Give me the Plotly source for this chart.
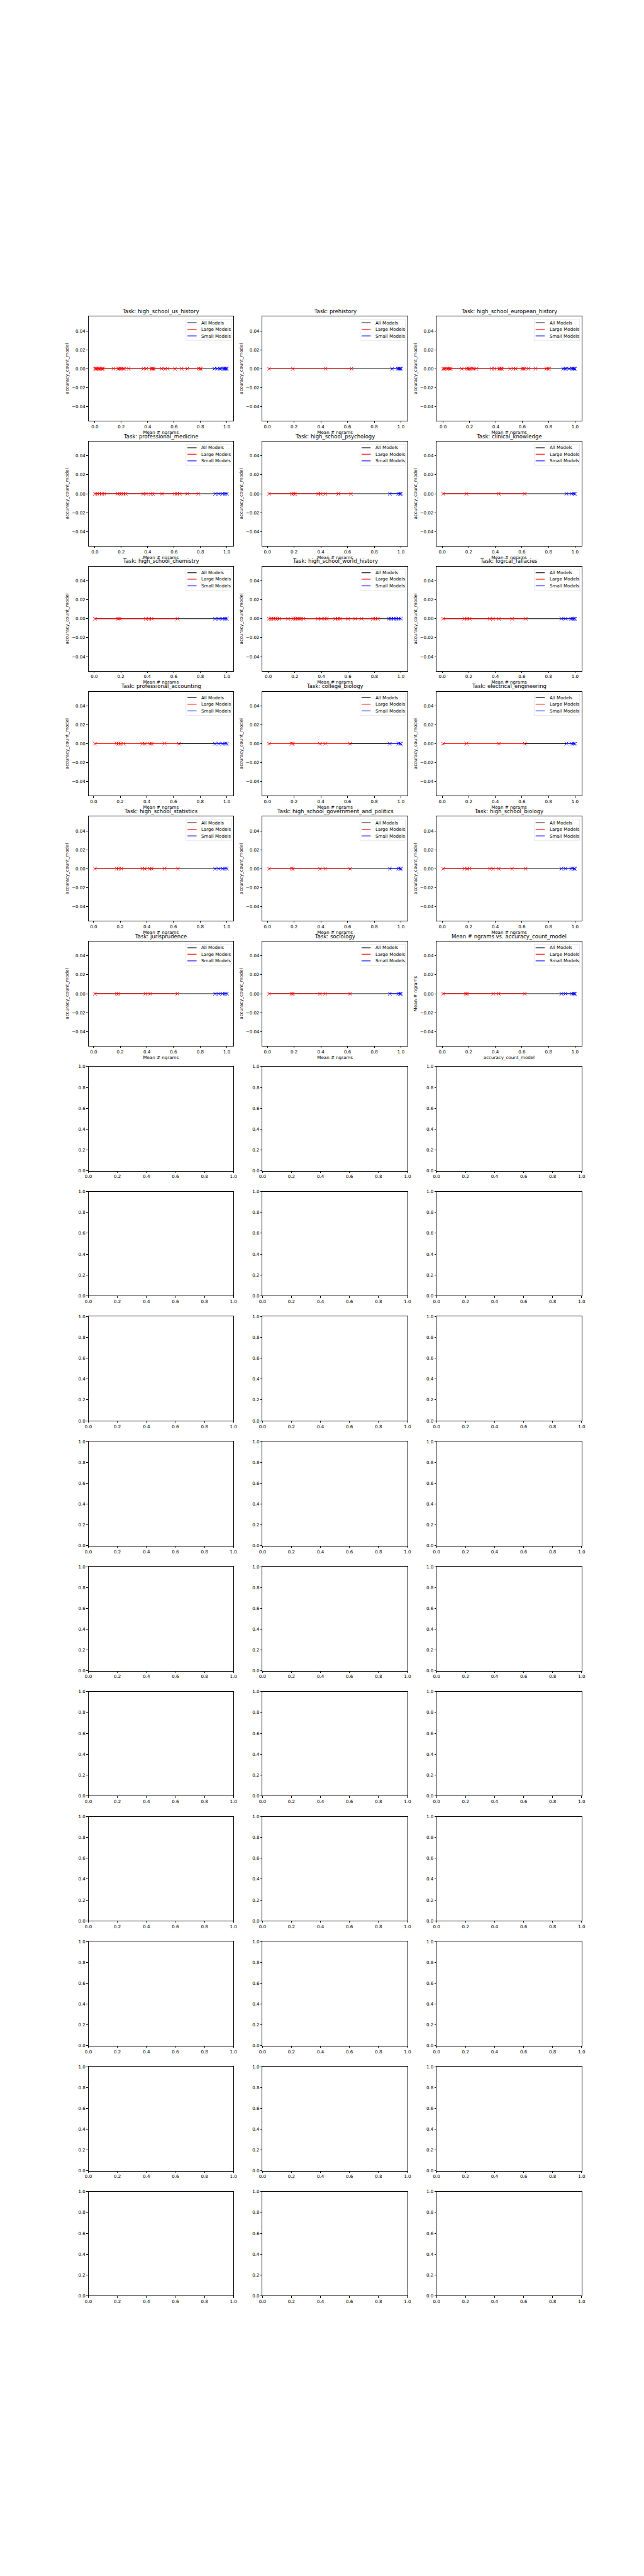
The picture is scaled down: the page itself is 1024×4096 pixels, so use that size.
import plotly.graph_objects as go

# ---------------- data ----------------
TASK_TITLES = [
    "Task: high_school_us_history", "Task: prehistory", "Task: high_school_european_history",
    "Task: professional_medicine", "Task: high_school_psychology", "Task: clinical_knowledge",
    "Task: high_school_chemistry", "Task: high_school_world_history", "Task: logical_fallacies",
    "Task: professional_accounting", "Task: college_biology", "Task: electrical_engineering",
    "Task: high_school_statistics", "Task: high_school_government_and_politics", "Task: high_school_biology",
    "Task: jurisprudence", "Task: sociology", "Mean # ngrams vs. accuracy_count_model",
]
X_LABELS = ["Mean # ngrams"] * 17 + ["accuracy_count_model"]
Y_LABELS = ["accuracy_count_model"] * 17 + ["Mean # ngrams"]
LEGEND_LABELS = ["All Models", "Large Models", "Small Models"]
X_TICKS = [0.0, 0.2, 0.4, 0.6, 0.8, 1.0]
Y_TICKS = [-0.04, -0.02, 0.0, 0.02, 0.04]
Y_RANGE = [-0.055, 0.055]

us_history_large = [0.000, 0.006, 0.012, 0.024, 0.030, 0.036, 0.050, 0.055, 0.061, 0.140, 0.176, 0.185,
                    0.195, 0.201, 0.213, 0.222, 0.256, 0.367, 0.390, 0.428, 0.434, 0.440, 0.446, 0.506,
                    0.532, 0.551, 0.607, 0.658, 0.700, 0.786, 0.796, 0.803]
us_history_small = [0.905, 0.928, 0.945, 0.952, 0.975, 0.982, 0.988, 0.994, 1.000]

prehistory_large = [0.013, 0.191, 0.437, 0.630]
prehistory_small = [0.934, 0.976, 0.984, 0.990, 0.996, 1.000]

european_history_large = [0.000, 0.008, 0.015, 0.030, 0.040, 0.050, 0.058, 0.142, 0.178, 0.188, 0.196,
                          0.204, 0.222, 0.232, 0.252, 0.368, 0.390, 0.425, 0.432, 0.440, 0.446, 0.507,
                          0.533, 0.551, 0.600, 0.608, 0.615, 0.646, 0.700, 0.782, 0.795, 0.805]
european_history_small = [0.910, 0.925, 0.934, 0.954, 0.975, 0.982, 0.990, 0.996, 1.000]

prof_medicine_large = [0.000, 0.017, 0.034, 0.053, 0.070, 0.173, 0.187, 0.201, 0.216, 0.233, 0.365,
                       0.388, 0.424, 0.439, 0.508, 0.604, 0.624, 0.643, 0.700, 0.784]
prof_medicine_small = [0.911, 0.940, 0.969, 0.988, 1.000]

hs_psychology_large = [0.012, 0.183, 0.195, 0.207, 0.379, 0.398, 0.433, 0.531, 0.626]
hs_psychology_small = [0.917, 0.981, 0.993, 1.000]

clinical_large = [0.007, 0.182, 0.426, 0.622]
clinical_small = [0.935, 0.976, 0.990, 1.000]

hs_chemistry_large = [0.005, 0.180, 0.190, 0.389, 0.412, 0.432, 0.628]
hs_chemistry_small = [0.911, 0.940, 0.969, 0.988, 1.000]

world_history_large = [0.005, 0.021, 0.036, 0.052, 0.069, 0.083, 0.148, 0.188, 0.202, 0.217, 0.231,
                       0.245, 0.264, 0.374, 0.398, 0.426, 0.440, 0.505, 0.524, 0.540, 0.600, 0.655,
                       0.702, 0.790, 0.807, 0.826]
world_history_small = [0.910, 0.926, 0.945, 0.964, 0.981, 1.000]

logical_large = [0.007, 0.167, 0.187, 0.206, 0.359, 0.383, 0.426, 0.526, 0.629]
logical_small = [0.897, 0.928, 0.971, 0.983, 0.993, 1.000]

accounting_large = [0.010, 0.173, 0.187, 0.204, 0.225, 0.365, 0.384, 0.422, 0.436, 0.532, 0.640]
accounting_small = [0.911, 0.940, 0.969, 0.988, 1.000]

college_bio_large = [0.012, 0.181, 0.190, 0.393, 0.433, 0.619]
college_bio_small = [0.917, 0.981, 0.993, 1.000]

electrical_large = [0.007, 0.182, 0.426, 0.622]
electrical_small = [0.935, 0.976, 0.990, 1.000]

statistics_large = [0.010, 0.173, 0.187, 0.209, 0.365, 0.384, 0.422, 0.436, 0.532, 0.633]
statistics_small = [0.911, 0.940, 0.969, 0.988, 1.000]

government_large = [0.012, 0.181, 0.190, 0.393, 0.433, 0.619]
government_small = [0.917, 0.981, 0.993, 1.000]

hs_biology_large = [0.007, 0.167, 0.187, 0.206, 0.359, 0.383, 0.426, 0.526, 0.629]
hs_biology_small = [0.897, 0.928, 0.971, 0.983, 0.993, 1.000]

jurisprudence_large = [0.010, 0.173, 0.185, 0.389, 0.424, 0.628]
jurisprudence_small = [0.911, 0.940, 0.969, 0.988, 1.000]

sociology_large = [0.012, 0.181, 0.190, 0.393, 0.433, 0.619]
sociology_small = [0.917, 0.981, 0.993, 1.000]

overall_large = [0.007, 0.177, 0.187, 0.385, 0.426, 0.622]
overall_small = [0.897, 0.928, 0.976, 0.988, 0.995, 1.000]

# accuracy_count_model is 0.0 for every model in every task
ACCURACY_VALUE = 0.0

PANELS = [
    (us_history_large, us_history_small), (prehistory_large, prehistory_small),
    (european_history_large, european_history_small),
    (prof_medicine_large, prof_medicine_small), (hs_psychology_large, hs_psychology_small),
    (clinical_large, clinical_small),
    (hs_chemistry_large, hs_chemistry_small), (world_history_large, world_history_small),
    (logical_large, logical_small),
    (accounting_large, accounting_small), (college_bio_large, college_bio_small),
    (electrical_large, electrical_small),
    (statistics_large, statistics_small), (government_large, government_small),
    (hs_biology_large, hs_biology_small),
    (jurisprudence_large, jurisprudence_small), (sociology_large, sociology_small),
    (overall_large, overall_small),
]

# ---------------- style ----------------
W, H = 1024, 4096
FONT = "DejaVu Sans"
FS = 7.1
TITLE_FS = 8.5
N_ROWS, N_COLS = 16, 3
COL_W = 0.775 / 3.4
GAP_X = 0.2 * COL_W
ROW_H = 0.77 / 19
GAP_Y = 0.2 * ROW_H
LW_AXIS = 0.6
MARKER_SIZE = 5.6
MARKER_LW = 1.0
C_ALL, C_LARGE, C_SMALL = "#000000", "#ff0000", "#0000ff"

fig = go.Figure()
layout = {}
shapes = []
annotations = []

axis_common = dict(
    showline=True, mirror=True, linecolor="black", linewidth=LW_AXIS,
    ticks="outside", ticklen=2.5, tickwidth=LW_AXIS, tickcolor="black",
    tickfont=dict(family=FONT, size=FS, color="black"),
    showgrid=False, zeroline=False,
)

for i in range(N_ROWS * N_COLS):
    r, c = divmod(i, N_COLS)
    n = "" if i == 0 else str(i + 1)
    x0 = 0.125 + c * (COL_W + GAP_X)
    top = 0.88 - r * (ROW_H + GAP_Y)
    xd = [x0, x0 + COL_W]
    yd = [top - ROW_H, top]
    xa = dict(axis_common, domain=xd, anchor="y" + n)
    ya = dict(axis_common, domain=yd, anchor="x" + n)
    if i < len(PANELS):
        large, small = PANELS[i]
        all_x = sorted(large + small)
        lo, hi = min(all_x), max(all_x)
        pad = 0.05 * (hi - lo)
        xa.update(range=[lo - pad, hi + pad], tickvals=X_TICKS, tickformat=".1f",
                  title=dict(text=X_LABELS[i], font=dict(family=FONT, size=FS, color="black"), standoff=2))
        ya.update(range=Y_RANGE, tickvals=Y_TICKS, tickformat=".2f",
                  title=dict(text=Y_LABELS[i], font=dict(family=FONT, size=FS, color="black"), standoff=3))
        ax_ref = dict(xaxis="x" + n, yaxis="y" + n)
        fig.add_trace(go.Scatter(x=all_x, y=[ACCURACY_VALUE for _ in all_x], mode="lines",
                                 line=dict(color=C_ALL, width=1.1), showlegend=False, **ax_ref))
        fig.add_trace(go.Scatter(x=large, y=[ACCURACY_VALUE for _ in large], mode="lines",
                                 line=dict(color=C_LARGE, width=1.1), showlegend=False, **ax_ref))
        fig.add_trace(go.Scatter(x=large, y=[ACCURACY_VALUE for _ in large], mode="markers",
                                 marker=dict(symbol="x-thin", size=MARKER_SIZE, color=C_LARGE,
                                             line=dict(color=C_LARGE, width=MARKER_LW)),
                                 showlegend=False, **ax_ref))
        fig.add_trace(go.Scatter(x=small, y=[ACCURACY_VALUE for _ in small], mode="lines",
                                 line=dict(color=C_SMALL, width=1.1), showlegend=False, **ax_ref))
        fig.add_trace(go.Scatter(x=small, y=[ACCURACY_VALUE for _ in small], mode="markers",
                                 marker=dict(symbol="x-thin", size=MARKER_SIZE, color=C_SMALL,
                                             line=dict(color=C_SMALL, width=MARKER_LW)),
                                 showlegend=False, **ax_ref))
        # subplot title
        annotations.append(dict(text=TASK_TITLES[i], xref="x" + n + " domain", yref="y" + n + " domain",
                                x=0.5, y=1.0, xanchor="center", yanchor="bottom", yshift=1.5,
                                showarrow=False, font=dict(family=FONT, size=TITLE_FS, color="black")))
        # legend box (upper right, matplotlib style)
        xr, yr = "x" + n + " domain", "y" + n + " domain"
        shapes.append(dict(type="rect", xref=xr, yref=yr, x0=0.673, x1=0.985, y0=0.772, y1=0.975,
                           fillcolor="rgba(255,255,255,0.8)", line=dict(color="#d6d6d6", width=0.6),
                           layer="above"))
        for k, (lab, col) in enumerate(zip(LEGEND_LABELS, [C_ALL, C_LARGE, C_SMALL])):
            yy = [0.941, 0.879, 0.815][k]
            shapes.append(dict(type="line", xref=xr, yref=yr, x0=0.683, x1=0.746, y0=yy, y1=yy,
                               line=dict(color=col, width=1.1), layer="above"))
            annotations.append(dict(text=lab, xref=xr, yref=yr, x=0.770, y=yy, xanchor="left",
                                    yanchor="middle", showarrow=False,
                                    font=dict(family=FONT, size=FS, color="black")))
    else:
        xa.update(range=[0, 1], tickvals=X_TICKS, tickformat=".1f")
        ya.update(range=[0, 1], tickvals=X_TICKS, tickformat=".1f")
        # invisible placeholder so the empty axes are drawn
        fig.add_trace(go.Scatter(x=[], y=[], xaxis="x" + n, yaxis="y" + n, showlegend=False))
    layout["xaxis" + n] = xa
    layout["yaxis" + n] = ya

fig.update_layout(
    width=W, height=H, autosize=False,
    margin=dict(l=0, r=0, t=0, b=0),
    paper_bgcolor="white", plot_bgcolor="white",
    showlegend=False,
    font=dict(family=FONT, size=FS, color="black"),
    shapes=shapes, annotations=annotations,
    **layout,
)

fig.write_html("out.html")
